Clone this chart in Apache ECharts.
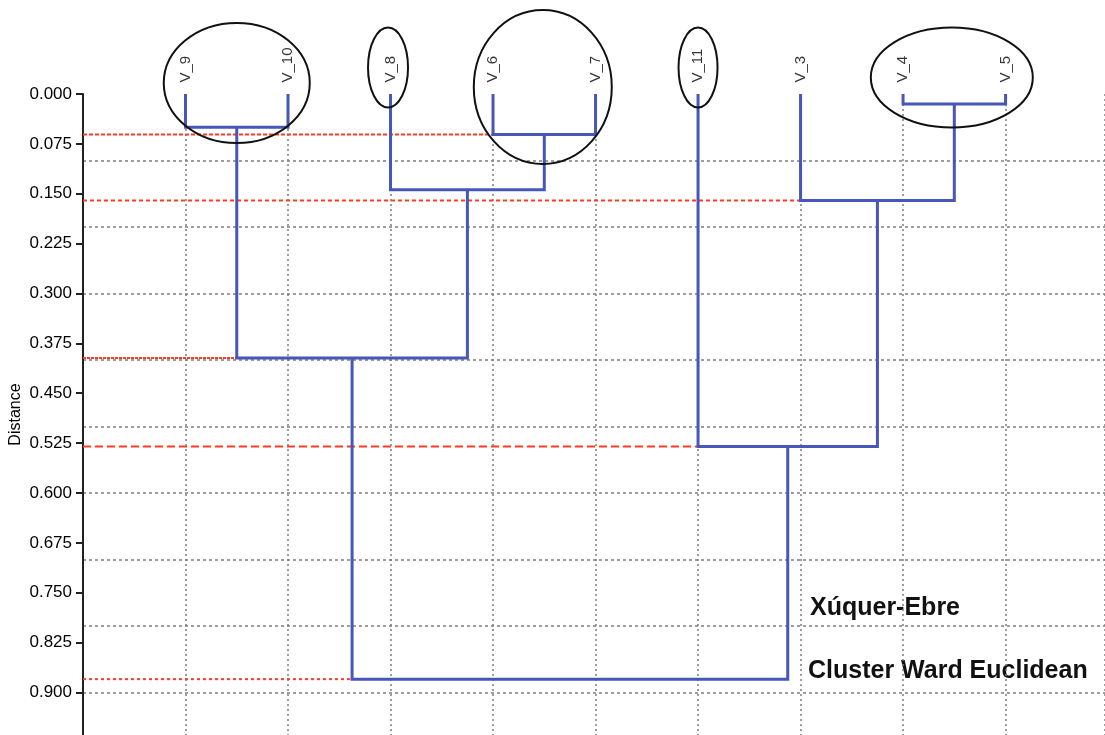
<!DOCTYPE html>
<html>
<head>
<meta charset="utf-8">
<script src="https://cdn.jsdelivr.net/npm/echarts@6/dist/echarts.min.js"></script>
<style>
  html, body { margin: 0; padding: 0; background: #fff; }
  #chart { width: 1105px; height: 735px; }
</style>
</head>
<body>
<div id="chart"></div>
<script>
// leaves in dendrogram order (x = index + 1)
const leafNames = ['V_9', 'V_10', 'V_8', 'V_6', 'V_7', 'V_11', 'V_3', 'V_4', 'V_5']
// linkage: node ids 0..8 are leaves, merge k creates node 9 + k
const mergeA = [7, 0, 3, 2, 6, 10, 5, 14]
const mergeB = [8, 1, 4, 11, 9, 12, 13, 15]
const mergeHeight = [0.015, 0.050, 0.061, 0.144, 0.160, 0.397, 0.530, 0.880]
// merges marked with a red cut line
const cutMerge = [2, 4, 5, 6, 7]
// circled groups of leaves
const circledGroups = [[0, 1], [2], [3, 4], [5], [7, 8]]
const distanceTickStep = 0.075
const gridStep = 0.1

// styles
const cutDash = [[4, 2], [4, 3], [3, 1], [8, 4], [3, 3]]
const ellipseBox = [
  { dx: 0, dy: -11, rx: 73, ry: 60 },
  { dx: -2.5, dy: -26.5, rx: 20, ry: 40 },
  { dx: -1.5, dy: -7, rx: 69, ry: 77 },
  { dx: 0, dy: -26.5, rx: 19.5, ry: 40 },
  { dx: -2.5, dy: -16.5, rx: 81, ry: 50 }
]

// node positions
const nodeX = leafNames.map((n, i) => i + 1)
const nodeH = leafNames.map(() => 0)
mergeA.forEach((a, k) => {
  nodeX.push((nodeX[a] + nodeX[mergeB[k]]) / 2)
  nodeH.push(mergeHeight[k])
})
const linkData = mergeA.map((a, k) => [nodeX[a], nodeH[a], nodeX[mergeB[k]], nodeH[mergeB[k]], mergeHeight[k]])
const cutData = cutMerge.map((k, i) => [nodeX[mergeA[k]], mergeHeight[k], i])
const ellipseData = circledGroups.map((g, i) => [g.reduce((s, j) => s + nodeX[j], 0) / g.length, 0, i])

const chart = echarts.init(document.getElementById('chart'))
chart.setOption({
  animation: false,
  grid: { left: 83, right: 0, top: 94, bottom: 0, containLabel: false, outerBoundsMode: 'none' },
  xAxis: {
    type: 'value',
    min: 0,
    max: 9.97,
    interval: 1,
    axisLine: { show: false },
    axisTick: { show: false },
    axisLabel: { show: false },
    splitLine: {
      show: true,
      showMinLine: false,
      lineStyle: { color: '#7d7d7d', type: [2, 3], width: 1.5 }
    }
  },
  yAxis: [{
    type: 'value',
    inverse: true,
    min: 0,
    max: 0.964,
    interval: distanceTickStep,
    name: 'Distance',
    nameLocation: 'middle',
    nameGap: 59,
    nameMoveOverlap: false,
    nameTextStyle: { fontFamily: 'Liberation Sans', fontSize: 16, color: '#000' },
    axisLine: { show: true, lineStyle: { color: '#222', width: 2 } },
    axisTick: { show: true, length: 7, lineStyle: { color: '#222', width: 2 } },
    axisLabel: {
      margin: 11,
      showMaxLabel: false,
      fontFamily: 'Liberation Sans',
      fontSize: 17,
      color: '#000',
      formatter: v => v.toFixed(3)
    },
    splitLine: { show: false }
  }, {
    type: 'value',
    position: 'left',
    inverse: true,
    min: 0,
    max: 0.964,
    interval: gridStep,
    axisLine: { show: false },
    axisTick: { show: false },
    axisLabel: { show: false },
    splitLine: {
      show: true,
      showMinLine: false,
      showMaxLine: false,
      lineStyle: { color: '#7d7d7d', type: [3, 3], width: 1.5 }
    }
  }],
  series: [
    {
      // red cut lines from the axis to the merge
      type: 'custom',
      yAxisIndex: 0,
      clip: false,
      z: 3,
      data: cutData,
      renderItem: (params, api) => {
        const p0 = api.coord([0, api.value(1)])
        const p1 = api.coord([api.value(0), api.value(1)])
        return {
          type: 'line',
          shape: { x1: p0[0], y1: p0[1], x2: p1[0], y2: p1[1] },
          style: { stroke: '#ff3a26', lineWidth: 2, lineDash: cutDash[api.value(2)] }
        }
      }
    },
    {
      // dendrogram links
      type: 'custom',
      yAxisIndex: 0,
      clip: false,
      z: 4,
      data: linkData,
      renderItem: (params, api) => {
        const pts = [
          api.coord([api.value(0), api.value(1)]),
          api.coord([api.value(0), api.value(4)]),
          api.coord([api.value(2), api.value(4)]),
          api.coord([api.value(2), api.value(3)])
        ]
        return {
          type: 'polyline',
          shape: { points: pts },
          style: { fill: 'none', stroke: '#4757b8', lineWidth: 3 }
        }
      }
    },
    {
      // circled groups
      type: 'custom',
      yAxisIndex: 0,
      clip: false,
      z: 5,
      data: ellipseData,
      renderItem: (params, api) => {
        const b = ellipseBox[api.value(2)]
        const c = api.coord([api.value(0), api.value(1)])
        return {
          type: 'ellipse',
          shape: { cx: c[0] + b.dx, cy: c[1] + b.dy, rx: b.rx, ry: b.ry },
          style: { fill: 'none', stroke: '#111', lineWidth: 2 }
        }
      }
    },
    {
      // leaf labels
      type: 'scatter',
      yAxisIndex: 0,
      symbolSize: 1,
      itemStyle: { color: 'rgba(0,0,0,0)' },
      z: 6,
      data: leafNames.map((n, i) => [nodeX[i], 0]),
      label: {
        show: true,
        position: 'top',
        distance: 11,
        rotate: 90,
        align: 'left',
        verticalAlign: 'middle',
        fontFamily: 'Liberation Sans',
        fontSize: 15,
        color: '#000',
        formatter: p => leafNames[p.dataIndex]
      }
    }
  ],
  graphic: [
    {
      type: 'text', left: 810, top: 596,
      style: { text: 'Xúquer-Ebre', font: 'bold 25px "Liberation Sans"', fill: '#111' }
    },
    {
      type: 'text', left: 808, top: 659,
      style: { text: 'Cluster Ward Euclidean', font: 'bold 25px "Liberation Sans"', fill: '#111' }
    }
  ]
})
</script>
</body>
</html>
